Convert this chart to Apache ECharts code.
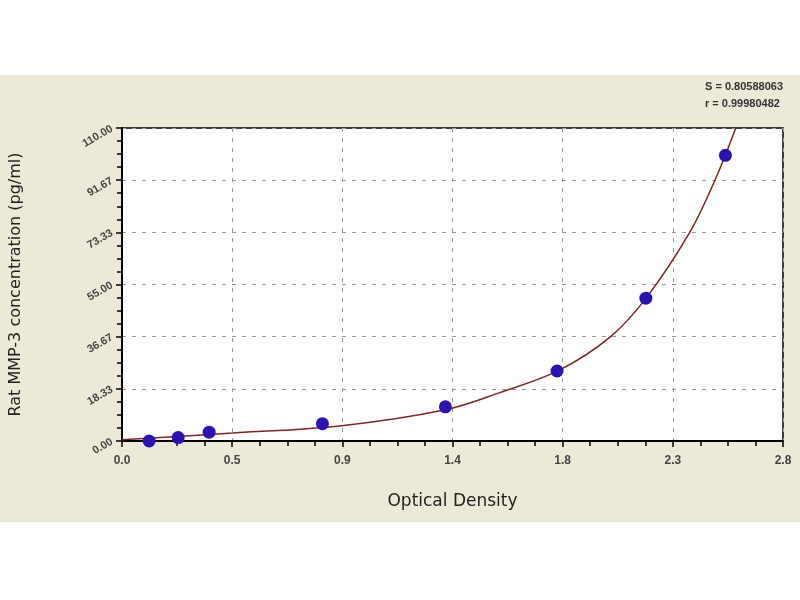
<!DOCTYPE html>
<html>
<head>
<meta charset="utf-8">
<script src="https://cdn.jsdelivr.net/npm/echarts@6/dist/echarts.min.js"></script>
<style>
  html, body { margin: 0; padding: 0; background: #fff; }
  #chart { width: 800px; height: 600px; }
</style>
</head>
<body>
<div id="chart"></div>
<script>
// standards: optical density vs concentration
const odValues = [0.115, 0.238, 0.369, 0.849, 1.370, 1.843, 2.219, 2.556];
const concValues = [0.0, 1.2, 3.1, 6.1, 12.0, 24.6, 50.2, 100.4];

// fitted curve
const curveX = [0.0, 0.47, 0.93, 1.37, 1.60, 1.85, 2.07, 2.22, 2.405, 2.512, 2.60];
const curveY = [0.4, 2.8, 5.4, 11.0, 17.0, 24.8, 36.7, 50.2, 73.3, 91.7, 110.0];

const xTickLabels = ['0.0', '0.5', '0.9', '1.4', '1.8', '2.3', '2.8'];
const yTickLabels = ['0.00', '18.33', '36.67', '55.00', '73.33', '91.67', '110.00'];

const fitStats = ['S = 0.80588063', 'r = 0.99980482'];

const xMax = 2.8, yMax = 110;
const xStep = xMax / 6, yStep = yMax / 6;

const chart = echarts.init(document.getElementById('chart'));

const option = {
  backgroundColor: '#fff',
  animation: false,
  textStyle: { fontFamily: 'Liberation Sans, Arial, sans-serif' },
  graphic: [
    {
      type: 'rect',
      z: -1,
      shape: { x: 0, y: 75, width: 800, height: 447 },
      style: { fill: '#ece9d8' }
    },
    {
      type: 'text',
      right: 17,
      top: 78,
      style: {
        text: fitStats.join('\n'),
        fill: '#333',
        font: 'bold 11px Liberation Sans, Arial, sans-serif',
        align: 'right',
        lineHeight: 17
      }
    }
  ],
  grid: {
    left: 122,
    right: 17,
    top: 128,
    bottom: 159,
    outerBoundsMode: 'none',
    show: true,
    backgroundColor: '#fff',
    borderColor: '#000',
    borderWidth: 1.5
  },
  xAxis: {
    type: 'value',
    min: 0,
    max: xMax,
    interval: xStep,
    name: 'Optical Density',
    nameLocation: 'middle',
    nameGap: 52,
    nameTextStyle: { fontSize: 17, color: '#222', fontFamily: 'DejaVu Sans' },
    axisLine: { lineStyle: { color: '#000', width: 2 } },
    axisTick: { length: 6, lineStyle: { color: '#000', width: 1.5 } },
    minorTick: { show: true, splitNumber: 4, length: 5, lineStyle: { color: '#000', width: 1.5 } },
    axisLabel: {
      fontSize: 12,
      fontWeight: 'bold',
      color: '#444',
      margin: 14,
      formatter: v => xTickLabels[Math.round(v / xStep)]
    },
    splitLine: { show: true, lineStyle: { color: '#999', type: [4, 6] } }
  },
  yAxis: {
    type: 'value',
    min: 0,
    max: yMax,
    interval: yStep,
    name: 'Rat MMP-3 concentration (pg/ml)',
    nameLocation: 'middle',
    nameGap: 98,
    nameTextStyle: { fontSize: 16, color: '#222', fontFamily: 'DejaVu Sans' },
    axisLine: { lineStyle: { color: '#000', width: 2 } },
    axisTick: { length: 6, lineStyle: { color: '#000', width: 1.5 } },
    minorTick: { show: true, splitNumber: 4, length: 5, lineStyle: { color: '#000', width: 1.5 } },
    axisLabel: {
      fontSize: 11,
      fontWeight: 'bold',
      color: '#444',
      rotate: 30,
      margin: 10,
      formatter: v => yTickLabels[Math.round(v / yStep)]
    },
    splitLine: { show: true, lineStyle: { color: '#999', type: [4, 6] } }
  },
  series: [
    {
      name: 'Fit',
      type: 'line',
      smooth: 0.35,
      showSymbol: false,
      data: curveX.map((x, i) => [x, curveY[i]]),
      lineStyle: { color: '#7a2626', width: 1.5 },
      z: 3
    },
    {
      name: 'Standards',
      type: 'scatter',
      symbol: 'circle',
      symbolSize: 13,
      data: odValues.map((x, i) => [x, concValues[i]]),
      itemStyle: { color: '#2c12b0', opacity: 1 },
      z: 4
    }
  ]
};

chart.setOption(option);
</script>
</body>
</html>
